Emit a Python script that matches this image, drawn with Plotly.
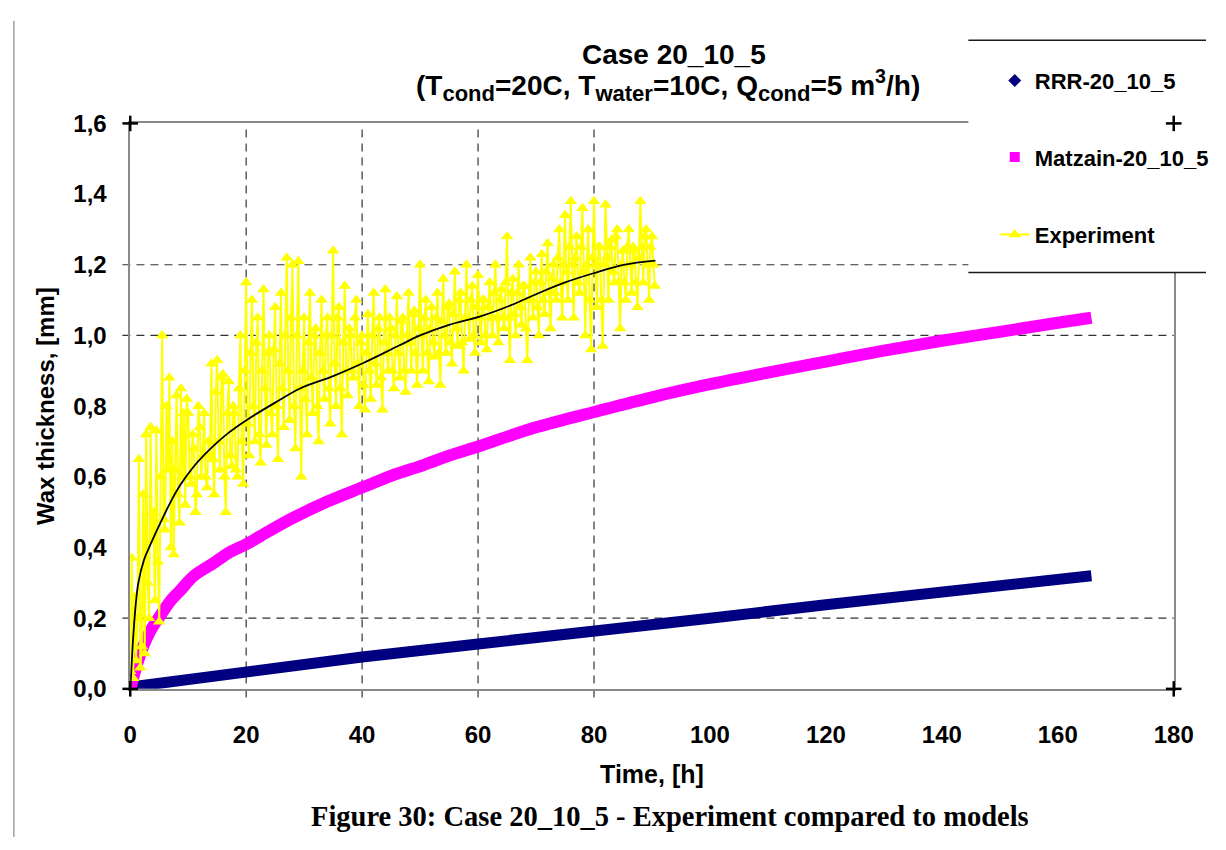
import plotly.graph_objects as go

W, H = 1226, 850

# ---------------- data ----------------
rrr_t = [0, 20, 40, 60, 80, 100, 120, 140, 160, 165.8]
rrr_y = [0.005, 0.05, 0.09, 0.127, 0.161, 0.2, 0.238, 0.274, 0.31, 0.32]

matz_t = [0, 1, 2, 3.5, 5.3, 7, 8.6, 11, 14.4, 17, 20.1, 24, 28, 34, 40.2, 45,
          50.7, 55, 60.4, 70, 80.4, 90, 100, 110, 120, 130, 140, 150, 160, 165.8]
matz_y = [0, 0.06, 0.11, 0.165, 0.21, 0.25, 0.278, 0.32, 0.356, 0.385, 0.41, 0.447,
          0.483, 0.53, 0.571, 0.603, 0.634, 0.66, 0.688, 0.74, 0.785, 0.825, 0.862,
          0.895, 0.926, 0.957, 0.985, 1.01, 1.036, 1.05]

exp_step_h = 0.25   # sampling interval of the experiment series, hours
exp_y = [
    0.05, 0.37, 0.03, 0.26, 0.08, 0.20, 0.65, 0.06,   # 0 - 1.75 h
    0.12, 0.55, 0.10, 0.72, 0.30, 0.20, 0.74, 0.42,   # 2 - 3.75
    0.50, 0.25, 0.73, 0.36, 0.19, 0.60, 1.00, 0.48,   # 4 - 5.75
    0.45, 0.80, 0.62, 0.88, 0.40, 0.70, 0.38, 0.62,   # 6 - 7.75
    0.83, 0.55, 0.47, 0.85, 0.60, 0.78, 0.52, 0.82,   # 8 - 9.75
    0.78, 0.60, 0.58, 0.72, 0.68, 0.50, 0.55, 0.80,   # 10 - 11.75
    0.74, 0.60, 0.66, 0.78, 0.60, 0.57, 0.70, 0.66,   # 12 - 13.75
    0.92, 0.65, 0.55, 0.84, 0.93, 0.70, 0.62, 0.88,   # 14 - 15.75
    0.89, 0.60, 0.50, 0.78, 0.87, 0.66, 0.63, 0.80,   # 16 - 17.75
    0.78, 0.62, 0.60, 0.85, 1.00, 0.70, 0.58, 0.90,   # 18 - 19.75
    1.15, 0.75, 0.66, 0.95, 1.10, 0.80, 0.70, 0.98,   # 20 - 21.75
    1.05, 0.72, 0.64, 0.90, 1.13, 0.85, 0.69, 0.95,   # 22 - 23.75
    1.00, 0.78, 0.72, 0.96, 1.08, 0.80, 0.65, 0.92,   # 24 - 25.75
    1.12, 0.85, 0.74, 1.00, 1.22, 0.90, 0.76, 1.05,   # 26 - 27.75
    1.20, 0.80, 0.68, 1.00, 1.21, 0.85, 0.60, 0.90,   # 28 - 29.75
    1.05, 0.82, 0.72, 0.98, 1.12, 0.88, 0.78, 1.00,   # 30 - 31.75
    1.02, 0.80, 0.70, 0.95, 1.10, 0.90, 0.82, 1.00,   # 32 - 33.75
    1.05, 0.85, 0.75, 1.00, 1.24, 0.92, 0.80, 1.05,   # 34 - 35.75
    1.08, 0.85, 0.72, 0.98, 1.14, 0.90, 0.83, 1.02,   # 36 - 37.75
    1.00, 0.90, 0.88, 1.05, 1.10, 0.92, 0.80, 0.98,   # 38 - 39.75
    1.00, 0.86, 0.79, 0.95, 1.06, 0.90, 0.82, 1.00,   # 40 - 41.75
    1.12, 0.92, 0.86, 1.02, 1.05, 0.88, 0.79, 0.98,   # 42 - 43.75
    1.13, 0.95, 0.90, 1.05, 1.02, 0.90, 0.85, 1.00,   # 44 - 45.75
    1.11, 0.95, 0.88, 1.04, 1.05, 0.90, 0.84, 1.00,   # 46 - 47.75
    1.12, 0.98, 0.90, 1.06, 1.07, 0.95, 0.86, 1.02,   # 48 - 49.75
    1.20, 1.00, 0.90, 1.05, 1.10, 0.95, 0.87, 1.02,   # 50 - 51.75
    1.08, 0.98, 0.94, 1.05, 1.12, 0.95, 0.86, 1.04,   # 52 - 53.75
    1.16, 1.00, 0.95, 1.08, 1.09, 0.98, 0.92, 1.06,   # 54 - 55.75
    1.18, 1.02, 0.97, 1.10, 1.12, 0.98, 0.90, 1.05,   # 56 - 57.75
    1.20, 1.05, 0.99, 1.10, 1.14, 1.00, 0.95, 1.08,   # 58 - 59.75
    1.17, 1.05, 0.98, 1.10, 1.10, 1.00, 0.96, 1.08,   # 60 - 61.75
    1.15, 1.05, 1.00, 1.12, 1.20, 1.05, 0.98, 1.10,   # 62 - 63.75
    1.13, 1.05, 1.02, 1.15, 1.28, 1.05, 0.93, 1.12,   # 64 - 65.75
    1.16, 1.06, 1.00, 1.12, 1.20, 1.08, 1.03, 1.14,   # 66 - 67.75
    1.14, 1.02, 0.93, 1.10, 1.22, 1.10, 1.05, 1.15,   # 68 - 69.75
    1.18, 1.08, 1.00, 1.15, 1.23, 1.10, 1.06, 1.18,   # 70 - 71.75
    1.26, 1.12, 1.02, 1.16, 1.20, 1.12, 1.10, 1.22,   # 72 - 73.75
    1.30, 1.15, 1.05, 1.20, 1.34, 1.18, 1.10, 1.25,   # 74 - 75.75
    1.38, 1.20, 1.05, 1.22, 1.28, 1.15, 1.12, 1.25,   # 76 - 77.75
    1.36, 1.18, 1.00, 1.20, 1.30, 1.10, 0.96, 1.22,   # 78 - 79.75
    1.38, 1.20, 1.08, 1.25, 1.25, 1.10, 0.97, 1.20,   # 80 - 81.75
    1.37, 1.22, 1.10, 1.25, 1.27, 1.18, 1.15, 1.28,   # 82 - 83.75
    1.30, 1.15, 1.02, 1.20, 1.24, 1.15, 1.10, 1.25,   # 84 - 85.75
    1.30, 1.20, 1.12, 1.25, 1.24, 1.15, 1.08, 1.22,   # 86 - 87.75
    1.38, 1.25, 1.15, 1.28, 1.30, 1.20, 1.10, 1.25,   # 88 - 89.75
    1.28, 1.20, 1.14,                                 # 90 - 90.5
]
exp_t = [i * exp_step_h for i in range(len(exp_y))]

trend_t = [0, 0.15, 0.45, 0.9, 1.4, 2.4, 3.4, 5.3, 7, 8.6, 11, 14.4, 17, 20.1, 25,
           29.3, 35, 40.2, 46.2, 50, 55, 60.4, 65.6, 70.2, 75, 79.9, 85.1, 90.6]
trend_y = [0, 0.04, 0.13, 0.23, 0.30, 0.366, 0.405, 0.473, 0.53, 0.576, 0.63, 0.688,
           0.725, 0.761, 0.81, 0.85, 0.885, 0.922, 0.97, 1.0, 1.03, 1.054, 1.085,
           1.118, 1.15, 1.176, 1.2, 1.212]

x_ticks = [0, 20, 40, 60, 80, 100, 120, 140, 160, 180]
y_ticks = [0.0, 0.2, 0.4, 0.6, 0.8, 1.0, 1.2, 1.4, 1.6]
x_grid = [20, 40, 60, 80]
y_grid = [0.2, 1.0, 1.2]

names = ["RRR-20_10_5", "Matzain-20_10_5", "Experiment"]
title_text = "Case 20_10_5"
SUB = "<sub><span style='font-size:22px'>{}</span></sub>"
subtitle_text = ("(T" + SUB.format("cond") + "=20C, T" + SUB.format("water") + "=10C, Q"
                 + SUB.format("cond") + "=5 m<sup>3</sup>/h)")
caption_text = "Figure 30: Case 20_10_5 - Experiment compared to models"

# ---------------- helpers ----------------
def px(x):
    return x / W

def py(y):
    return 1 - y / H

SANS = "Liberation Sans, Arial, Helvetica, sans-serif"
SERIF = "Liberation Serif, Times New Roman, serif"

# plot area in pixels
PL, PR, PT, PB = 126, 1193, 113, 697

fig = go.Figure()

fig.add_trace(go.Scatter(x=rrr_t, y=rrr_y, mode="lines",
                         line=dict(color="#000080", width=11),
                         showlegend=False, hoverinfo="skip"))
fig.add_trace(go.Scatter(x=matz_t, y=matz_y, mode="lines",
                         line=dict(color="#FF00FF", width=12, shape="spline"),
                         showlegend=False, hoverinfo="skip"))
fig.add_trace(go.Scatter(x=exp_t, y=exp_y, mode="lines+markers", name=names[2],
                         line=dict(color="#FFFF00", width=2),
                         marker=dict(symbol="triangle-up", size=11, color="#FFFF00"),
                         legend="legend3"))
fig.add_trace(go.Scatter(x=trend_t, y=trend_y, mode="lines",
                         line=dict(color="black", width=1.8, shape="spline"),
                         showlegend=False, hoverinfo="skip"))
# legend entries for the model series (drawn as dense marker bands)
fig.add_trace(go.Scatter(x=[None], y=[None], mode="markers", name=names[0],
                         marker=dict(symbol="diamond", size=10, color="#000080"),
                         legend="legend"))
fig.add_trace(go.Scatter(x=[None], y=[None], mode="markers", name=names[1],
                         marker=dict(symbol="square", size=10, color="#FF00FF"),
                         legend="legend2"))

shapes = []
# page border on the left
shapes.append(dict(type="line", xref="paper", yref="paper", x0=px(7), x1=px(7),
                   y0=py(7), y1=0, line=dict(color="#a0a0a0", width=1.5)))
# dashed grid lines
for g in y_grid:
    shapes.append(dict(type="line", xref="paper", yref="y", x0=px(118), x1=px(PR),
                       y0=g, y1=g, layer="below",
                       line=dict(color="#333333", width=1.2, dash="8px,6px")))
for g in x_grid:
    shapes.append(dict(type="line", xref="x", yref="paper", x0=g, x1=g,
                       y0=py(706), y1=py(PT), layer="below",
                       line=dict(color="#333333", width=1.2, dash="8px,6px")))
# legend box (covers top-right corner of plot)
shapes.append(dict(type="rect", xref="paper", yref="paper", x0=px(983), x1=1.0,
                   y0=py(267), y1=py(27), fillcolor="white", line=dict(width=0),
                   layer="above"))
for yy in (27, 267):
    shapes.append(dict(type="line", xref="paper", yref="paper", x0=px(983), x1=1.0,
                       y0=py(yy), y1=py(yy), layer="above",
                       line=dict(color="#1a1a1a", width=1.5)))
# corner crosses
for cx, cy in [(PL, PT), (PL, PB), (PR, PB), (PR, PT)]:
    shapes.append(dict(type="line", xref="paper", yref="paper", x0=px(cx - 8), x1=px(cx + 8),
                       y0=py(cy), y1=py(cy), layer="above", line=dict(color="black", width=2.5)))
    shapes.append(dict(type="line", xref="paper", yref="paper", x0=px(cx), x1=px(cx),
                       y0=py(cy - 8), y1=py(cy + 8), layer="above", line=dict(color="black", width=2.5)))

annotations = [
    dict(text=f"<b>{title_text}</b>", x=px(682), y=py(42), xref="paper", yref="paper",
         showarrow=False, xanchor="center", yanchor="middle",
         font=dict(family=SANS, size=28, color="black")),
    dict(text=f"<b>{subtitle_text}</b>", x=px(676), y=py(74), xref="paper", yref="paper",
         showarrow=False, xanchor="center", yanchor="middle",
         font=dict(family=SANS, size=28, color="black")),
    dict(text=f"<b>{caption_text}</b>", x=px(678), y=py(829), xref="paper", yref="paper",
         showarrow=False, xanchor="center", yanchor="middle",
         font=dict(family=SERIF, size=28.5, color="black")),
]

legend_common = dict(xref="paper", yref="paper", x=px(1010), xanchor="left", yanchor="middle",
                     bgcolor="rgba(0,0,0,0)", borderwidth=0,
                     font=dict(family=SANS, size=22, color="black", weight="bold"))

fig.update_layout(
    width=W, height=H,
    margin=dict(l=0, r=0, t=0, b=0),
    paper_bgcolor="white", plot_bgcolor="rgba(0,0,0,0)",
    separators=", ",
    font=dict(family=SANS, color="black"),
    xaxis=dict(domain=[px(PL), px(PR)], range=[0, 180], tickvals=x_ticks,
               showgrid=False, zeroline=False, showline=True, mirror=True,
               linecolor="#8a8a8a", linewidth=1.5, ticks="",
               ticklabelstandoff=24,
               tickfont=dict(family=SANS, size=24, color="black", weight="bold"),
               title=dict(text="Time, [h]", standoff=18,
                          font=dict(family=SANS, size=25, color="black", weight="bold"))),
    yaxis=dict(domain=[py(PB), py(PT)], range=[0, 1.6], tickvals=y_ticks, tickformat=".1f",
               showgrid=False, zeroline=False, showline=True, mirror=True,
               linecolor="#8a8a8a", linewidth=1.5, ticks="",
               ticklabelstandoff=17,
               tickfont=dict(family=SANS, size=24, color="black", weight="bold"),
               title=dict(text="Wax thickness, [mm]", standoff=12,
                          font=dict(family=SANS, size=24, color="black", weight="bold"))),
    legend=dict(y=py(69), **legend_common),
    legend2=dict(y=py(148), **legend_common),
    legend3=dict(y=py(228), **legend_common),
    shapes=shapes,
    annotations=annotations,
)

fig.write_html("out.html", config={"displayModeBar": False},
               post_script="document.body.style.margin='0';document.body.style.overflow='hidden';")
